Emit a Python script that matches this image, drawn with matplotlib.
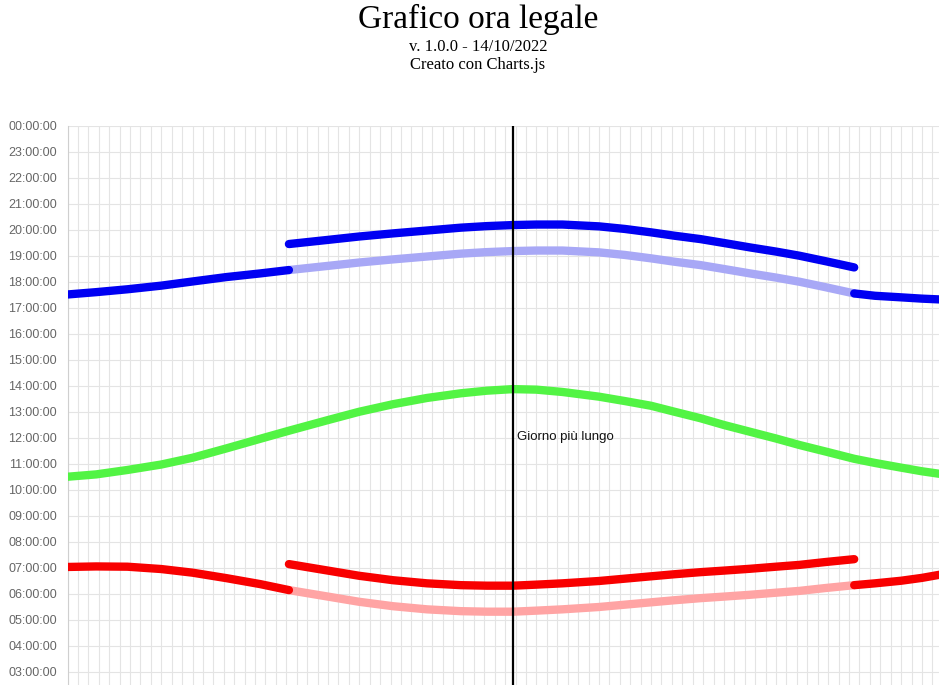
import matplotlib
matplotlib.use('Agg')
import matplotlib.pyplot as plt

# Day of year (0 = 1 January 2022) of the values
days = [0, 11, 23, 36, 48, 61, 74, 85, 100, 112, 125, 138, 151, 161, 171, 180,
        190, 204, 214, 224, 233, 243, 252, 262, 272, 281, 291, 302, 310, 320, 328, 337]
# Sunset, standard (solar) time, decimal hours
sunset_std = [17.52, 17.61, 17.72, 17.86, 18.02, 18.19, 18.33, 18.46, 18.62, 18.75,
              18.87, 18.98, 19.09, 19.15, 19.19, 19.21, 19.21, 19.14, 19.04, 18.91,
              18.78, 18.65, 18.50, 18.33, 18.17, 18.01, 17.80, 17.56, 17.47, 17.41,
              17.36, 17.32]
# Sunrise, standard (solar) time, decimal hours
sunrise_std = [7.04, 7.06, 7.05, 6.96, 6.82, 6.61, 6.38, 6.15, 5.90, 5.70,
               5.53, 5.41, 5.34, 5.32, 5.32, 5.36, 5.41, 5.50, 5.59, 5.68,
               5.76, 5.84, 5.90, 5.97, 6.05, 6.12, 6.23, 6.34, 6.41, 6.51,
               6.62, 6.78]
# Day length, hours
day_length = [10.51, 10.60, 10.77, 10.98, 11.24, 11.60, 11.97, 12.28, 12.69, 13.01,
              13.30, 13.54, 13.72, 13.82, 13.88, 13.86, 13.77, 13.59, 13.42, 13.24,
              13.01, 12.76, 12.50, 12.24, 11.98, 11.73, 11.48, 11.20, 11.04, 10.86,
              10.72, 10.59]

dst_start = 85      # 27/03/2022
dst_end = 302       # 30/10/2022
dst_shift = 1.0     # ora legale: +1 h
longest_day = 171   # 21/06/2022
n_days = 365

hour_ticks = list(range(0, 25))
hour_labels = [f"{h % 24:02d}:00:00" if h >= 3 else "" for h in hour_ticks]

title = "Grafico ora legale"
subtitle1 = "v. 1.0.0 - 14/10/2022"
subtitle2 = "Creato con Charts.js"
annotation = "Giorno più lungo"

C_BLUE = '#0000f2'
C_BLUE_L = '#a8a8f6'
C_RED = '#f80000'
C_RED_L = '#ffa4a4'
C_GREEN = '#52f444'

W, H = 939, 685
fig = plt.figure(figsize=(W / 100, H / 100), dpi=100)
fig.patch.set_facecolor('white')

x0 = 67.5
px_per_day = 2.605
x1 = x0 + (n_days - 1) * px_per_day
y_top = 126
y_bot = 126 + 24 * 26
ax = fig.add_axes([x0 / W, 1 - y_bot / H, (x1 - x0) / W, (y_bot - y_top) / H])
ax.set_xlim(0, n_days - 1)
ax.set_ylim(0, 24)

ax.set_yticks(hour_ticks)
ax.set_yticklabels(hour_labels)
ax.set_xticks(list(range(0, n_days, 4)))
ax.set_xticklabels([])
ax.tick_params(axis='both', length=0)
ax.tick_params(axis='y', pad=7.5, labelsize=9, labelcolor='#666666')
for lab in ax.get_yticklabels():
    lab.set_fontfamily('Liberation Sans')
ax.grid(True, color='#e4e4e4', linewidth=0.8)
ax.set_axisbelow(True)
for s in ['top', 'right', 'bottom']:
    ax.spines[s].set_visible(False)
ax.spines['left'].set_color('#cfcfcf')
ax.spines['left'].set_linewidth(0.8)


def part(lo, hi, vals, shift=0.0):
    xs = [d for d in days if lo <= d <= hi]
    ys = [v + shift for d, v in zip(days, vals) if lo <= d <= hi]
    return xs, ys


LW = 6.0
kw = dict(solid_capstyle='round', solid_joinstyle='round', linewidth=LW)

# day length
ax.plot(days, day_length, color=C_GREEN, zorder=3, **kw)

# standard time during DST (light)
ax.plot(*part(dst_start, dst_end, sunset_std), color=C_BLUE_L, zorder=3, **kw)
ax.plot(*part(dst_start, dst_end, sunrise_std), color=C_RED_L, zorder=3, **kw)

# legal time (solid)
for vals, col in [(sunset_std, C_BLUE), (sunrise_std, C_RED)]:
    ax.plot(*part(0, dst_start, vals), color=col, zorder=4, **kw)
    ax.plot(*part(dst_start, dst_end, vals, dst_shift), color=col, zorder=4, **kw)
    ax.plot(*part(dst_end, n_days, vals), color=col, zorder=4, **kw)

# longest day marker
ax.axvline(longest_day, color='black', linewidth=1.6, zorder=5)
ax.annotate(annotation, xy=(longest_day, 12.04), xytext=(3, 0), textcoords='offset points',
            ha='left', va='center', fontsize=9.5, color='#111111',
            fontfamily='Liberation Sans', zorder=6)

# titles
cx = 478 / W
fig.text(cx, 1 - 19 / H, title, ha='center', va='center', fontsize=24,
         fontfamily='Liberation Serif', color='black')
fig.text(cx, 1 - 47 / H, subtitle1, ha='center', va='center', fontsize=12,
         fontfamily='Liberation Serif', color='black')
fig.text(cx, 1 - 65 / H, subtitle2, ha='center', va='center', fontsize=12,
         fontfamily='Liberation Serif', color='black')

fig.savefig('out.png', dpi=100)
